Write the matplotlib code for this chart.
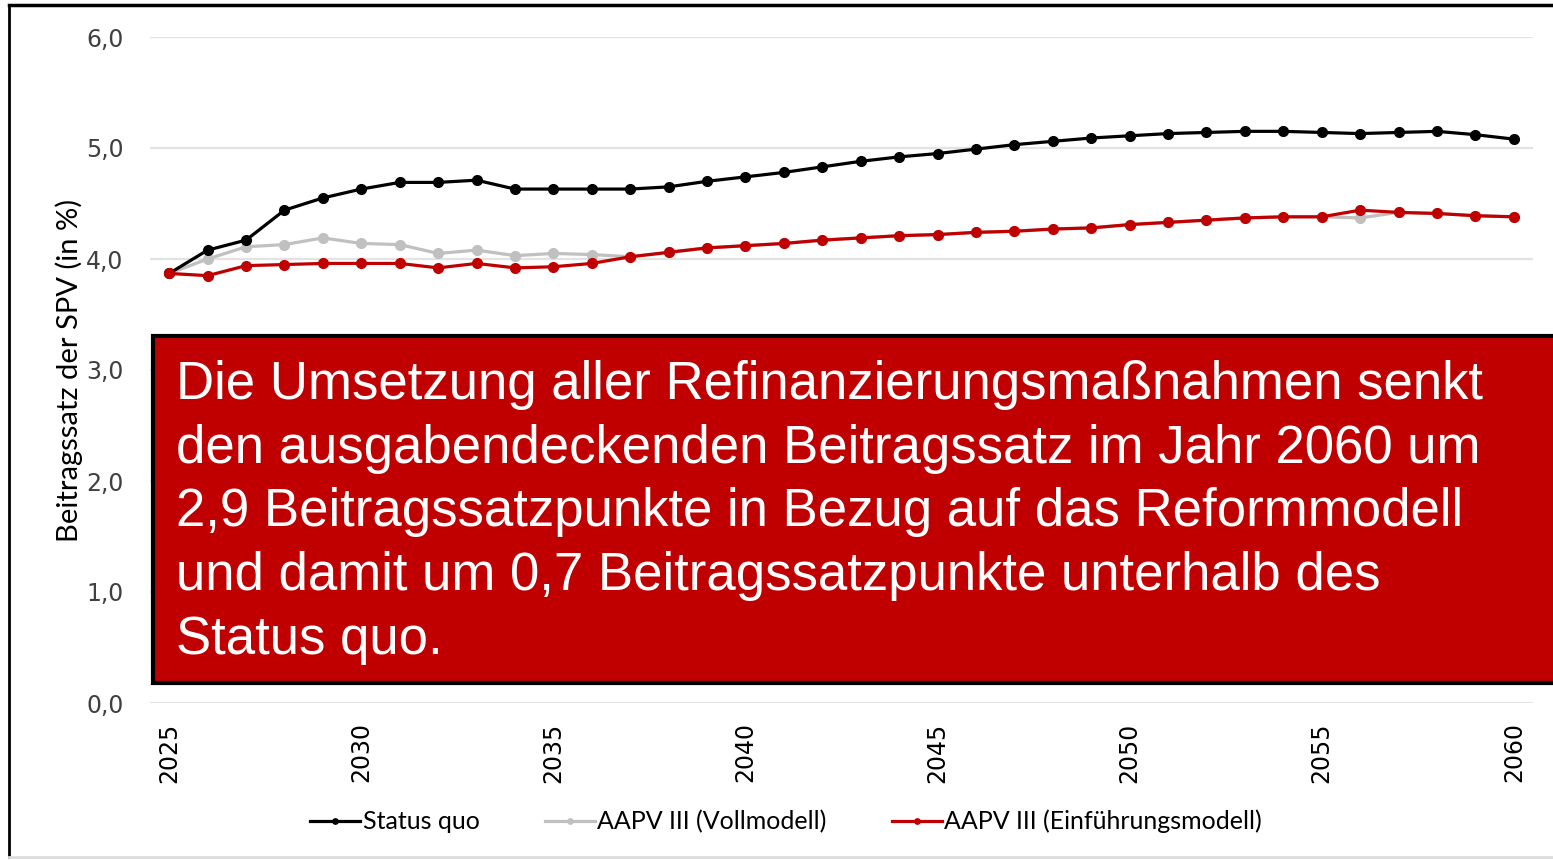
import matplotlib.pyplot as plt
from matplotlib.patches import Rectangle
from matplotlib.lines import Line2D

years = list(range(2025, 2061))

status_quo = [3.87, 4.08, 4.17, 4.44, 4.55, 4.63, 4.69, 4.69, 4.71, 4.63,
              4.63, 4.63, 4.63, 4.65, 4.70, 4.74, 4.78, 4.83, 4.88, 4.92,
              4.95, 4.99, 5.03, 5.06, 5.09, 5.11, 5.13, 5.14, 5.15, 5.15,
              5.14, 5.13, 5.14, 5.15, 5.12, 5.08]

vollmodell = [3.87, 4.00, 4.11, 4.13, 4.19, 4.14, 4.13, 4.05, 4.08, 4.03,
              4.05, 4.04, 4.02, 4.06, 4.10, 4.12, 4.14, 4.17, 4.19, 4.21,
              4.22, 4.24, 4.25, 4.27, 4.28, 4.31, 4.33, 4.35, 4.37, 4.38,
              4.38, 4.37, 4.42, 4.41, 4.39, 4.38]

einfuehrung = [3.87, 3.85, 3.94, 3.95, 3.96, 3.96, 3.96, 3.92, 3.96, 3.92,
               3.93, 3.96, 4.02, 4.06, 4.10, 4.12, 4.14, 4.17, 4.19, 4.21,
               4.22, 4.24, 4.25, 4.27, 4.28, 4.31, 4.33, 4.35, 4.37, 4.38,
               4.38, 4.44, 4.42, 4.41, 4.39, 4.38]

yticks = [0, 1, 2, 3, 4, 5, 6]
ytick_labels = ["0,0", "1,0", "2,0", "3,0", "4,0", "5,0", "6,0"]
xticks = [2025, 2030, 2035, 2040, 2045, 2050, 2055, 2060]

note = ("Die Umsetzung aller Refinanzierungsmaßnahmen senkt\n"
        "den ausgabendeckenden Beitragssatz im Jahr 2060 um\n"
        "2,9 Beitragssatzpunkte in Bezug auf das Reformmodell\n"
        "und damit um 0,7 Beitragssatzpunkte unterhalb des\n"
        "Status quo.")

# Lato stands in for Calibri
calib = ["Lato", "DejaVu Sans"]

W, H = 1553, 860
fig = plt.figure(figsize=(W / 100, H / 100), dpi=100)
ax = fig.add_axes([150 / W, 1 - 703 / H, 1383 / W, 666 / H])

ax.plot(years, status_quo, color="black", lw=2.3, marker="o", ms=7, label="Status quo", zorder=3)
ax.plot(years, vollmodell, color="#C0C0C0", lw=2.3, marker="o", ms=7, label="AAPV III (Vollmodell)", zorder=2)
ax.plot(years, einfuehrung, color="#C00000", lw=2.3, marker="o", ms=7, label="AAPV III (Einführungsmodell)", zorder=4)

ax.set_xlim(2024.5, 2060.5)
ax.set_ylim(0, 6)
ax.set_yticks(yticks)
ax.set_yticklabels(ytick_labels, fontsize=17, color="#404040", family="DejaVu Sans")
ax.set_xticks(xticks)
ax.set_xticklabels([str(x) for x in xticks], rotation=90, fontsize=17, color="black", family="DejaVu Sans")
ax.tick_params(length=0, axis="y", pad=19)
ax.tick_params(length=0, axis="x", pad=14)
ax.grid(axis="y", color="#E3E3E3", lw=1.6)
ax.set_axisbelow(True)
for s in ax.spines.values():
    s.set_visible(False)

ax.set_ylabel("Beitragssatz der SPV (in %)", fontsize=21, family=calib, labelpad=2)

leg = ax.legend(loc="center", bbox_to_anchor=(0.46, -0.178), ncol=3, frameon=False,
                prop={"family": calib, "size": 18}, handlelength=2.0, handletextpad=0.1,
                columnspacing=2.6, markerscale=0.55)

# red note box
fig.add_artist(Rectangle((153 / W, 1 - 683 / H), 1420 / W, 347 / H, transform=fig.transFigure,
                         facecolor="#C00000", edgecolor="black", lw=3, zorder=10))
fig.text(176 / W, 1 - 360 / H, note, color="white", fontsize=38, family="Liberation Sans",
         va="top", ha="left", linespacing=1.35, zorder=11)

# outer frame
fig.add_artist(Line2D([9 / W, 9 / W], [1 - 5 / H, 1 - 857 / H], transform=fig.transFigure, color="black", lw=2))
fig.add_artist(Line2D([9 / W, 1], [1 - 5 / H, 1 - 5 / H], transform=fig.transFigure, color="black", lw=2.5))
fig.add_artist(Line2D([9 / W, 1], [1 - 857 / H, 1 - 857 / H], transform=fig.transFigure, color="#DDDDDD", lw=2))

fig.savefig("out.png", dpi=100)
